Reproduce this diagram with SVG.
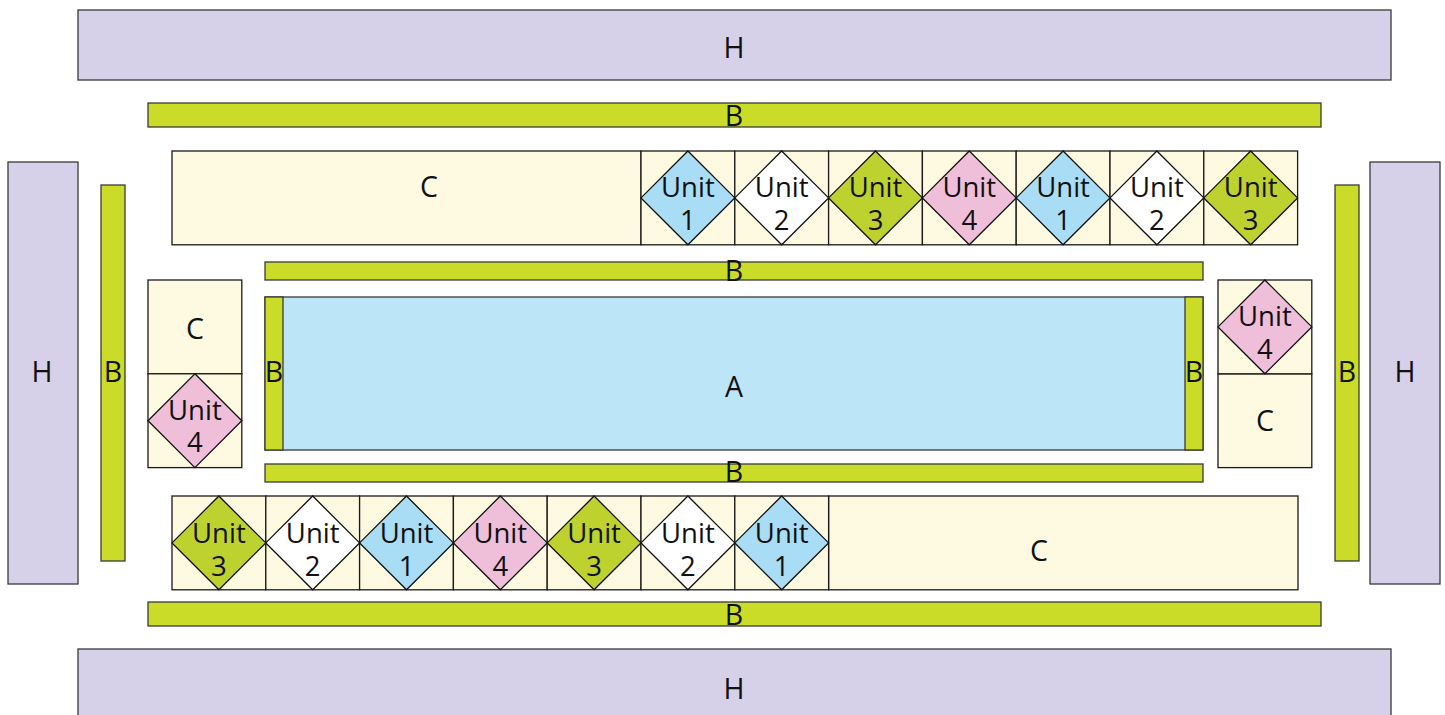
<svg xmlns="http://www.w3.org/2000/svg" width="1445" height="715" viewBox="0 0 1445 715">
<style>
rect, polygon { stroke-width: 1.3; }
.h { fill: #d6d0e8; stroke: #3a3a3a; }
.b { fill: #cbdc28; stroke: #3a3a3a; }
.c { fill: #fefae1; stroke: #1a1a1a; }
.a { fill: #bde5f8; stroke: #3a3a3a; }
.u1 { fill: #a9dcf5; stroke: #111; }
.u2 { fill: #ffffff; stroke: #111; }
.u3 { fill: #bdd22e; stroke: #111; }
.u4 { fill: #efbfd9; stroke: #111; }
text { font-family: "Open Sans", "Liberation Sans", sans-serif; font-size: 28.5px; fill: #111; text-anchor: middle; }
.ut { font-size: 27.5px; }
</style>
<defs>
<g id="cell"><rect class="c" x="0" y="0" width="93.8" height="93.8"/></g>
</defs>

<g id="H-top"><rect class="h" x="78" y="10" width="1313" height="70"/><text x="734" y="58">H</text></g>
<g id="H-bottom"><rect class="h" x="78" y="649" width="1313" height="72"/><text x="734" y="699">H</text></g>
<g id="H-left"><rect class="h" x="8" y="162" width="70" height="422"/><text x="42" y="382">H</text></g>
<g id="H-right"><rect class="h" x="1370" y="162" width="70" height="422"/><text x="1405" y="382">H</text></g>

<g id="B-top"><rect class="b" x="148" y="103" width="1173" height="24"/><text x="734" y="126">B</text></g>
<g id="B-bottom"><rect class="b" x="148" y="602" width="1173" height="24"/><text x="734" y="625">B</text></g>
<g id="B-left"><rect class="b" x="101" y="185" width="24" height="376"/><text x="113" y="382">B</text></g>
<g id="B-right"><rect class="b" x="1335" y="185" width="24" height="376"/><text x="1347" y="382">B</text></g>

<g id="B-inner-top"><rect class="b" x="265" y="262" width="938" height="18"/><text x="734" y="281">B</text></g>
<g id="B-inner-bottom"><rect class="b" x="265" y="464" width="938" height="18"/><text x="734" y="482">B</text></g>

<g id="A"><rect class="a" x="265" y="297" width="938" height="153"/><text x="734" y="397">A</text></g>
<g id="B-inner-left"><rect class="b" x="265" y="297" width="18" height="153"/><text x="274" y="382">B</text></g>
<g id="B-inner-right"><rect class="b" x="1185" y="297" width="18" height="153"/><text x="1194" y="382">B</text></g>

<g id="C-top"><rect class="c" x="172" y="151" width="469" height="93.8"/><text x="429" y="197">C</text></g>
<g id="C-bottom"><rect class="c" x="828.6" y="496" width="469.4" height="93.8"/><text x="1039" y="561">C</text></g>
<g id="C-left"><rect class="c" x="148" y="280" width="93.8" height="93.8"/><text x="195" y="339">C</text></g>
<g id="C-right"><rect class="c" x="1218" y="373.8" width="93.8" height="93.8"/><text x="1265" y="431">C</text></g>

<!-- top row units -->
<g id="top-u1a"><use href="#cell" x="641" y="151"/><polygon class="u1" points="687.9,151 734.8,197.9 687.9,244.8 641,197.9"/><text class="ut" x="687.9" y="197">Unit</text><text class="ut" x="687.9" y="230">1</text></g>
<g id="top-u2a"><use href="#cell" x="734.8" y="151"/><polygon class="u2" points="781.7,151 828.6,197.9 781.7,244.8 734.8,197.9"/><text class="ut" x="781.7" y="197">Unit</text><text class="ut" x="781.7" y="230">2</text></g>
<g id="top-u3a"><use href="#cell" x="828.6" y="151"/><polygon class="u3" points="875.5,151 922.4,197.9 875.5,244.8 828.6,197.9"/><text class="ut" x="875.5" y="197">Unit</text><text class="ut" x="875.5" y="230">3</text></g>
<g id="top-u4"><use href="#cell" x="922.4" y="151"/><polygon class="u4" points="969.3,151 1016.2,197.9 969.3,244.8 922.4,197.9"/><text class="ut" x="969.3" y="197">Unit</text><text class="ut" x="969.3" y="230">4</text></g>
<g id="top-u1b"><use href="#cell" x="1016.2" y="151"/><polygon class="u1" points="1063.1,151 1110,197.9 1063.1,244.8 1016.2,197.9"/><text class="ut" x="1063.1" y="197">Unit</text><text class="ut" x="1063.1" y="230">1</text></g>
<g id="top-u2b"><use href="#cell" x="1110" y="151"/><polygon class="u2" points="1156.9,151 1203.8,197.9 1156.9,244.8 1110,197.9"/><text class="ut" x="1156.9" y="197">Unit</text><text class="ut" x="1156.9" y="230">2</text></g>
<g id="top-u3b"><use href="#cell" x="1203.8" y="151"/><polygon class="u3" points="1250.7,151 1297.6,197.9 1250.7,244.8 1203.8,197.9"/><text class="ut" x="1250.7" y="197">Unit</text><text class="ut" x="1250.7" y="230">3</text></g>

<!-- bottom row units -->
<g id="bot-u3a"><use href="#cell" x="172" y="496"/><polygon class="u3" points="218.9,496 265.8,542.9 218.9,589.8 172,542.9"/><text class="ut" x="218.9" y="543">Unit</text><text class="ut" x="218.9" y="576">3</text></g>
<g id="bot-u2a"><use href="#cell" x="265.8" y="496"/><polygon class="u2" points="312.7,496 359.6,542.9 312.7,589.8 265.8,542.9"/><text class="ut" x="312.7" y="543">Unit</text><text class="ut" x="312.7" y="576">2</text></g>
<g id="bot-u1a"><use href="#cell" x="359.6" y="496"/><polygon class="u1" points="406.5,496 453.4,542.9 406.5,589.8 359.6,542.9"/><text class="ut" x="406.5" y="543">Unit</text><text class="ut" x="406.5" y="576">1</text></g>
<g id="bot-u4"><use href="#cell" x="453.4" y="496"/><polygon class="u4" points="500.3,496 547.2,542.9 500.3,589.8 453.4,542.9"/><text class="ut" x="500.3" y="543">Unit</text><text class="ut" x="500.3" y="576">4</text></g>
<g id="bot-u3b"><use href="#cell" x="547.2" y="496"/><polygon class="u3" points="594.1,496 641,542.9 594.1,589.8 547.2,542.9"/><text class="ut" x="594.1" y="543">Unit</text><text class="ut" x="594.1" y="576">3</text></g>
<g id="bot-u2b"><use href="#cell" x="641" y="496"/><polygon class="u2" points="687.9,496 734.8,542.9 687.9,589.8 641,542.9"/><text class="ut" x="687.9" y="543">Unit</text><text class="ut" x="687.9" y="576">2</text></g>
<g id="bot-u1b"><use href="#cell" x="734.8" y="496"/><polygon class="u1" points="781.7,496 828.6,542.9 781.7,589.8 734.8,542.9"/><text class="ut" x="781.7" y="543">Unit</text><text class="ut" x="781.7" y="576">1</text></g>

<!-- side units -->
<g id="left-u4"><use href="#cell" x="148" y="373.8"/><polygon class="u4" points="194.9,373.8 241.8,420.7 194.9,467.6 148,420.7"/><text class="ut" x="194.9" y="420">Unit</text><text class="ut" x="194.9" y="452">4</text></g>
<g id="right-u4"><use href="#cell" x="1218" y="280"/><polygon class="u4" points="1264.9,280 1311.8,326.9 1264.9,373.8 1218,326.9"/><text class="ut" x="1264.9" y="326">Unit</text><text class="ut" x="1264.9" y="359">4</text></g>

<g id="connectors"></g>
</svg>
